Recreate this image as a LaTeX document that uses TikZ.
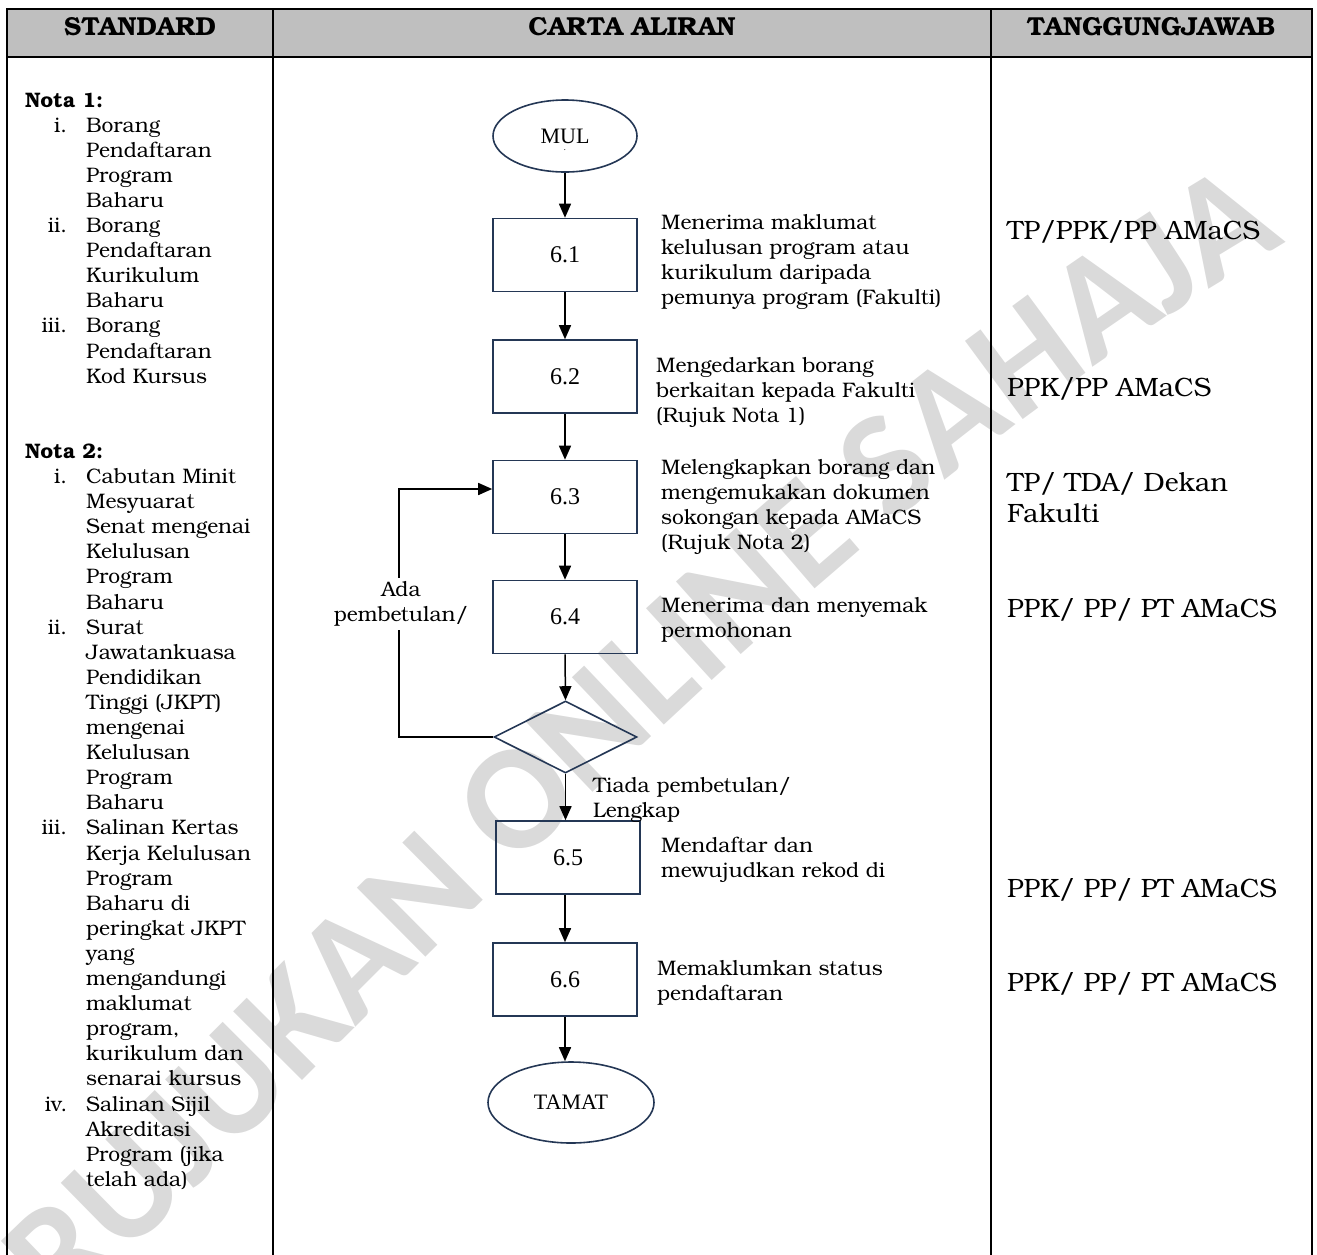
\documentclass[tikz,border=0pt]{standalone}
\usepackage{fontspec}
\setmainfont{texgyrebonum}[Extension=.otf, UprightFont=*-regular, BoldFont=*-bold, ItalicFont=*-italic, BoldItalicFont=*-bolditalic]
\newfontfamily\boxfont{Liberation Serif}
\newfontfamily\wmfont{Carlito}
\usetikzlibrary{arrows.meta,shapes.geometric,decorations.text,calc}
\definecolor{hdrgray}{RGB}{191,191,191}
\definecolor{shapeblue}{RGB}{36,55,85}
\definecolor{wmgray}{RGB}{218,218,218}
\newcommand\tlines[1]{\begin{tabular}[t]{@{}l@{}}#1\end{tabular}}
\newcommand\wnum[1]{\makebox[42pt][r]{#1}\hspace{19pt}}
\begin{document}
\begin{tikzpicture}[x=1pt,y=-1pt,
  tbl/.style={line width=2pt, draw=black},
  stepbox/.style={draw=shapeblue, line width=1.6pt, minimum width=144pt, minimum height=73pt, inner sep=0pt, font=\boxfont\fontsize{24}{28}\selectfont},
  term/.style={ellipse, draw=shapeblue, line width=1.6pt, inner sep=0pt, font=\boxfont\fontsize{22}{26}\selectfont},
  dec/.style={diamond, draw=shapeblue, line width=1.6pt, minimum width=143pt, minimum height=72pt, inner sep=0pt},
  flow/.style={line width=1.5pt, -{Triangle[length=14pt,width=12pt]}},
  desc/.style={anchor=base west, inner sep=0pt, font=\fontsize{21}{25}\selectfont},
  resp/.style={anchor=base west, inner sep=0pt, font=\fontsize{26.5}{31}\selectfont},
  hdr/.style={anchor=base, inner sep=0pt, font=\bfseries\fontsize{26}{30}\selectfont},
]
\useasboundingbox (0,0) rectangle (1317,1254);
% watermark
\path[decorate, decoration={text along path, text align=center, text color=wmgray,
  text={|\wmfont\bfseries\fontsize{150}{150}\selectfont|RUJUKAN ONLINE SAHAJA}}]
  (80,1300) .. controls (430,965) and (820,520) .. (1265,255);
% table
\fill[hdrgray] (7,9) rectangle (1312,57);
\draw[tbl] (7,1262) -- (7,9) -- (1312,9) -- (1312,1262);
\draw[tbl] (7,57) -- (1312,57);
\draw[tbl] (273,9) -- (273,1262);
\draw[tbl] (991,9) -- (991,1262);
\node[hdr] (h1) at (140,35) {STANDARD};
\node[hdr] (h2) at (632,35) {CARTA ALIRAN};
\node[hdr] (h3) at (1151,35) {TANGGUNGJAWAB};
% standard column
\node[anchor=base west, inner sep=0pt, font=\fontsize{21}{25.1}\selectfont] (std) at (25,107) {\tlines{%
\textbf{Nota 1:}\\
\wnum{i.}Borang\\
\wnum{}Pendaftaran\\
\wnum{}Program\\
\wnum{}Baharu\\
\wnum{ii.}Borang\\
\wnum{}Pendaftaran\\
\wnum{}Kurikulum\\
\wnum{}Baharu\\
\wnum{iii.}Borang\\
\wnum{}Pendaftaran\\
\wnum{}Kod Kursus\\
\\
\\
\textbf{Nota 2:}\\
\wnum{i.}Cabutan Minit\\
\wnum{}Mesyuarat\\
\wnum{}Senat mengenai\\
\wnum{}Kelulusan\\
\wnum{}Program\\
\wnum{}Baharu\\
\wnum{ii.}Surat\\
\wnum{}Jawatankuasa\\
\wnum{}Pendidikan\\
\wnum{}Tinggi (JKPT)\\
\wnum{}mengenai\\
\wnum{}Kelulusan\\
\wnum{}Program\\
\wnum{}Baharu\\
\wnum{iii.}Salinan Kertas\\
\wnum{}Kerja Kelulusan\\
\wnum{}Program\\
\wnum{}Baharu di\\
\wnum{}peringkat JKPT\\
\wnum{}yang\\
\wnum{}mengandungi\\
\wnum{}maklumat\\
\wnum{}program,\\
\wnum{}kurikulum dan\\
\wnum{}senarai kursus\\
\wnum{iv.}Salinan Sijil\\
\wnum{}Akreditasi\\
\wnum{}Program (jika\\
\wnum{}telah ada)}};
% flowchart
\node[term, minimum width=144pt, minimum height=72pt] (mul) at (565,136) {MUL};
\node[inner sep=0pt, font=\fontsize{8}{8}\selectfont] (muldot) at (565,150) {.};
\node[stepbox] (b61) at (565,255) {6.1};
\node[stepbox] (b62) at (565,376.5) {6.2};
\node[stepbox] (b63) at (565,497) {6.3};
\node[stepbox] (b64) at (565,617) {6.4};
\node[dec] (dia) at (565.5,737) {};
\node[stepbox] (b65) at (568,857.5) {6.5};
\node[stepbox] (b66) at (565,979.5) {6.6};
\node[term, minimum width=166pt, minimum height=81pt] (tamat) at (571,1102.5) {TAMAT};
\draw[flow] (mul) -- (b61);
\draw[flow] (b61) -- (b62);
\draw[flow] (b62) -- (b63);
\draw[flow] (b63) -- (b64);
\draw[flow] (b64.south) -- (dia.north);
\draw[flow] (dia.south) -- (dia.south |- b65.north);
\draw[flow] (b66.north |- b65.south) -- (b66.north);
\draw[flow] (b66.south) -- (b66.south |- tamat.north);
\coordinate (lpc) at (399,737);
\draw[flow] (dia.west) -- (lpc) |- ([yshift=8pt]b63.west);
\node[fill=white, inner sep=1pt, font=\fontsize{21}{25}\selectfont] (ada) at (401,604) {\begin{tabular}{@{}c@{}}Ada\\pembetulan/\end{tabular}};
\node[desc] (tiada) at (593,792) {\tlines{Tiada pembetulan/\\Lengkap}};
% descriptions
\node[desc] (d61) at (661,229) {\tlines{Menerima maklumat\\kelulusan program atau\\kurikulum daripada\\pemunya program (Fakulti)}};
\node[desc] (d62) at (656,372) {\tlines{Mengedarkan borang\\berkaitan kepada Fakulti\\(Rujuk Nota 1)}};
\node[desc] (d63) at (661,474) {\tlines{Melengkapkan borang dan\\mengemukakan dokumen\\sokongan kepada AMaCS\\(Rujuk Nota 2)}};
\node[desc] (d64) at (661,612) {\tlines{Menerima dan menyemak\\permohonan}};
\node[desc] (d65) at (661,852) {\tlines{Mendaftar dan\\mewujudkan rekod di}};
\node[desc] (d66) at (657,975) {\tlines{Memaklumkan status\\pendaftaran}};
% responsibilities
\node[resp] (r61) at (1007,239) {TP/PPK/PP AMaCS};
\node[resp] (r62) at (1007,396) {PPK/PP AMaCS};
\node[resp] (r63) at (1007,491) {\tlines{TP/ TDA/ Dekan\\Fakulti}};
\node[resp] (r64) at (1007,617) {PPK/ PP/ PT AMaCS};
\node[resp] (r65) at (1007,897) {PPK/ PP/ PT AMaCS};
\node[resp] (r66) at (1007,991) {PPK/ PP/ PT AMaCS};
\end{tikzpicture}
\end{document}
